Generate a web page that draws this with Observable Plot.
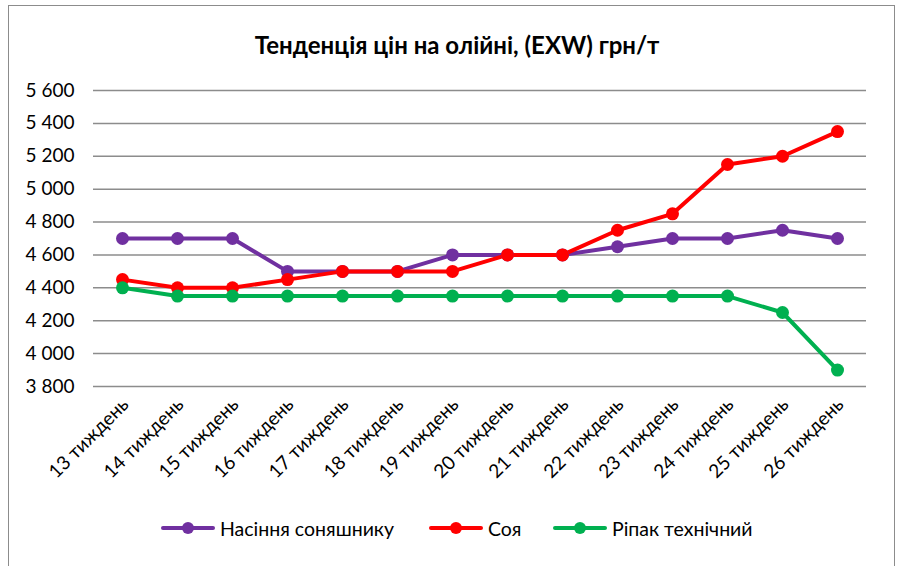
<!DOCTYPE html>
<html>
<head>
<meta charset="utf-8">
<script src="https://cdn.jsdelivr.net/npm/d3@7"></script>
<script src="https://cdn.jsdelivr.net/npm/@observablehq/plot@0.6"></script>
<style>
  body { margin: 0; background: #fff; }
  #wrap { position: relative; width: 899px; height: 566px; overflow: hidden; font-family: Lato, "Open Sans", sans-serif; }
  #frame { position: absolute; left: 8px; top: 5px; width: 887px; height: 600px; border: 1px solid #8c8c8c; box-sizing: border-box; }
  #title { position: absolute; left: 0; width: 914px; top: 31px; line-height: 28px; text-align: center; font-weight: bold; font-size: 24px; color: #000; white-space: nowrap; }
  #chart { position: absolute; left: 0; top: 0; }
  #legend { position: absolute; top: 516px; left: 0; width: 899px; height: 24px; }
  .item { position: absolute; top: 0; height: 24px; display: flex; align-items: center; font-size: 19.5px; color: #000; white-space: nowrap; }
  .sw { position: relative; width: 54px; height: 24px; margin-right: 5px; flex: none; }
  .sw .ln { position: absolute; left: 0; right: 0; top: 10px; height: 4px; border-radius: 2px; }
  .sw .dt { position: absolute; top: 6px; width: 12px; height: 12px; border-radius: 50%; }
</style>
</head>
<body>
<div id="wrap">
  <div id="frame"></div>
  <div id="title">Тенденція цін на олійні, (EXW) грн/т</div>
  <div id="chart"></div>
  <div id="legend"></div>
</div>
<script>
const weeks = ["13 тиждень","14 тиждень","15 тиждень","16 тиждень","17 тиждень","18 тиждень","19 тиждень","20 тиждень","21 тиждень","22 тиждень","23 тиждень","24 тиждень","25 тиждень","26 тиждень"];
const sunflower = [4700,4700,4700,4500,4500,4500,4600,4600,4600,4650,4700,4700,4750,4700];
const soy = [4450,4400,4400,4450,4500,4500,4500,4600,4600,4750,4850,5150,5200,5350];
const rapeseed = [4400,4350,4350,4350,4350,4350,4350,4350,4350,4350,4350,4350,4250,3900];
const seriesNames = ["Насіння соняшнику","Соя","Ріпак технічний"];
const seriesColors = ["#7030A0","#FF0000","#00B050"];
const yTicks = [3800,4000,4200,4400,4600,4800,5000,5200,5400,5600];

const seriesValues = [sunflower, soy, rapeseed];
const data = [];
seriesValues.forEach((vals, si) => {
  vals.forEach((v, i) => data.push({week: weeks[i], value: v, series: seriesNames[si]}));
});

const fmt = d => d3.format(",")(d).replace(/,/g, " ");

const chart = Plot.plot({
  width: 899,
  height: 500,
  marginLeft: 93,
  marginRight: 33,
  marginTop: 90,
  marginBottom: 114,
  style: { fontFamily: "Lato, 'Open Sans', sans-serif", fontSize: "19px", color: "#000", background: "transparent" },
  x: { type: "point", domain: weeks, padding: 0.5, label: null },
  y: { domain: [3800, 5600], label: null },
  color: { domain: seriesNames, range: seriesColors },
  marks: [
    Plot.ruleY(yTicks, { stroke: "#8c8c8c", strokeWidth: 1.5 }),
    Plot.axisY({ ticks: yTicks, tickSize: 0, tickPadding: 19, tickFormat: fmt, fontSize: 19, fill: "#000" }),
    Plot.axisX({ tickSize: 0, tickPadding: 15, tickRotate: -45, fontSize: 19, fill: "#000", dx: 3 }),
    Plot.line(data, { x: "week", y: "value", z: "series", stroke: "series", strokeWidth: 4 }),
    Plot.dot(data, { x: "week", y: "value", fill: "series", r: 6.5 })
  ]
});
document.getElementById("chart").appendChild(chart);

const legend = document.getElementById("legend");
const lefts = [161, 429, 553];
seriesNames.forEach((n, i) => {
  const it = document.createElement("div");
  it.className = "item";
  it.style.left = lefts[i] + "px";
  const sw = document.createElement("div");
  sw.className = "sw";
  const ln = document.createElement("div");
  ln.className = "ln"; ln.style.background = seriesColors[i];
  const dt = document.createElement("div");
  dt.className = "dt"; dt.style.background = seriesColors[i];
  dt.style.left = "21px";
  sw.appendChild(ln); sw.appendChild(dt);
  const tx = document.createElement("span");
  tx.textContent = n;
  it.appendChild(sw); it.appendChild(tx);
  legend.appendChild(it);
});
</script>
</body>
</html>
